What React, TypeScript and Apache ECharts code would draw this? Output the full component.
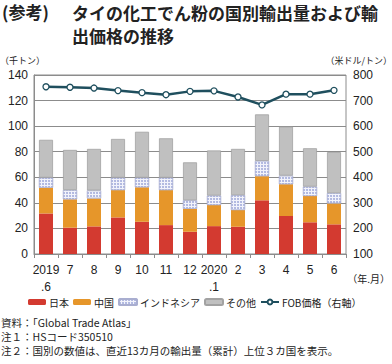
import React, { useEffect, useRef } from "react";
import * as echarts from "echarts";

const categories = ["2019\n.6", "7", "8", "9", "10", "11", "12", "2020\n.1", "2", "3", "4", "5", "6"];
const japan = [31.7, 20.6, 21.6, 28.6, 25.2, 22.6, 17.4, 21.8, 21.3, 42.0, 29.7, 24.8, 23.2];
const china = [20.2, 22.2, 21.9, 21.4, 27.0, 27.4, 18.0, 16.5, 13.1, 18.9, 24.9, 20.6, 16.4];
const indonesia = [7.8, 7.2, 6.2, 9.7, 7.5, 9.7, 6.6, 7.4, 11.6, 11.9, 6.7, 7.3, 8.0];
const other = [29.6, 31.4, 32.5, 30.3, 35.9, 30.8, 29.7, 35.3, 36.2, 36.4, 38.3, 30.0, 32.1];
const fob = [754, 752, 749, 739, 731, 723, 736, 738, 714, 683, 725, 725, 740];

const seriesNames = ["日本", "中国", "インドネシア", "その他", "FOB価格（右軸）"];
const notes = [
  "資料：「Global Trade Atlas」",
  "注１：HSコード350510",
  "注２：国別の数値は、直近13カ月の輸出量（累計）上位３カ国を表示。",
];

const FONT = "'Noto Sans CJK JP', 'Noto Sans', sans-serif";
const NUMFONT = "Arial, 'Liberation Sans', sans-serif";

export default function App() {
  const ref = useRef<HTMLDivElement>(null);
  useEffect(() => {
    if (!ref.current) return;
    const chart = echarts.init(ref.current, null, { renderer: "svg" });
    const barCommon = { type: "bar", stack: "total", barWidth: 14, yAxisIndex: 0 };
    chart.setOption({
      animation: false,
      textStyle: { fontFamily: FONT },
      grid: { left: 34, right: 46, top: 75, bottom: 110, show: true, borderColor: "#8c8c8c", borderWidth: 1 },
      legend: {
        left: 28,
        top: 297,
        width: 360,
        itemWidth: 18,
        itemHeight: 6,
        itemGap: 4,
        padding: 0,
        textStyle: { fontSize: 10, color: "#222", fontFamily: FONT, padding: [0, 0, 0, -2] },
        data: seriesNames,
      },
      xAxis: {
        type: "category",
        data: categories,
        axisLine: { lineStyle: { color: "#8c8c8c" } },
        axisTick: { show: true, length: 4, lineStyle: { color: "#8c8c8c" } },
        axisLabel: { interval: 0, color: "#222", fontSize: 12, lineHeight: 17, margin: 7, fontFamily: NUMFONT },
      },
      yAxis: [
        {
          type: "value",
          min: 0,
          max: 140,
          interval: 20,
          axisLine: { show: true, lineStyle: { color: "#8c8c8c" } },
          axisTick: { show: false },
          splitLine: { lineStyle: { color: "#8c8c8c", width: 1 } },
          axisLabel: { color: "#222", fontSize: 12, margin: 6, fontFamily: NUMFONT },
        },
        {
          type: "value",
          min: 100,
          max: 800,
          interval: 100,
          position: "right",
          axisLine: { show: false },
          axisTick: { show: false },
          splitLine: { show: false },
          axisLabel: { color: "#222", fontSize: 12, margin: 7, fontFamily: NUMFONT },
        },
      ],
      series: [
        { ...barCommon, name: seriesNames[0], data: japan, itemStyle: { color: "#d33a30" } },
        { ...barCommon, name: seriesNames[1], data: china, itemStyle: { color: "#e6962a" } },
        {
          ...barCommon,
          name: seriesNames[2],
          data: indonesia,
          itemStyle: {
            color: "#f2f3fb",
            borderColor: "#a9aed0",
            borderWidth: 0.5,
            decal: {
              symbol: "circle",
              symbolSize: 0.8,
              color: "#8f9ad2",
              dashArrayX: [2, 1],
              dashArrayY: [2, 1],
              rotation: 0,
            },
          },
        },
        { ...barCommon, name: seriesNames[3], data: other, itemStyle: { color: "#c0c0c0", borderColor: "#a2a2a2", borderWidth: 0.8 } },
        {
          type: "line",
          name: seriesNames[4],
          yAxisIndex: 1,
          data: fob,
          symbol: "circle",
          symbolSize: 6,
          lineStyle: { color: "#1f4f5e", width: 2.5 },
          itemStyle: { color: "#ffffff", borderColor: "#1f4f5e", borderWidth: 1.3 },
        },
      ],
      graphic: [
        { type: "text", left: 2, top: 3, style: { text: "(参考)", font: `bold 17px ${FONT}`, fill: "#222" } },
        {
          type: "text",
          left: 72,
          top: 1,
          style: {
            text: "タイの化工でん粉の国別輸出量および輸\n出価格の推移",
            font: `bold 17px ${FONT}`,
            lineHeight: 23,
            fill: "#222",
          },
        },
        { type: "text", left: 0, top: 56, style: { text: "（千トン）", font: `9px ${FONT}`, fill: "#222" } },
        { type: "text", right: 0, top: 56, style: { text: "（米ドル/トン）", font: `9px ${FONT}`, fill: "#222" } },
        { type: "text", right: 2, top: 273, style: { text: "（年.月）", font: `10px ${FONT}`, fill: "#222" } },
        { type: "text", left: 1, top: 317, style: { text: notes[0], font: `10.5px ${FONT}`, fill: "#222" } },
        { type: "text", left: 1, top: 331, style: { text: notes[1], font: `10.5px ${FONT}`, fill: "#222" } },
        { type: "text", left: 1, top: 345, style: { text: notes[2], font: `10.5px ${FONT}`, fill: "#222" } },
      ],
    });
    return () => chart.dispose();
  }, []);
  return <div ref={ref} style={{ width: 392, height: 364, position: "absolute", left: 0, top: 0, background: "#fff" }} />;
}
